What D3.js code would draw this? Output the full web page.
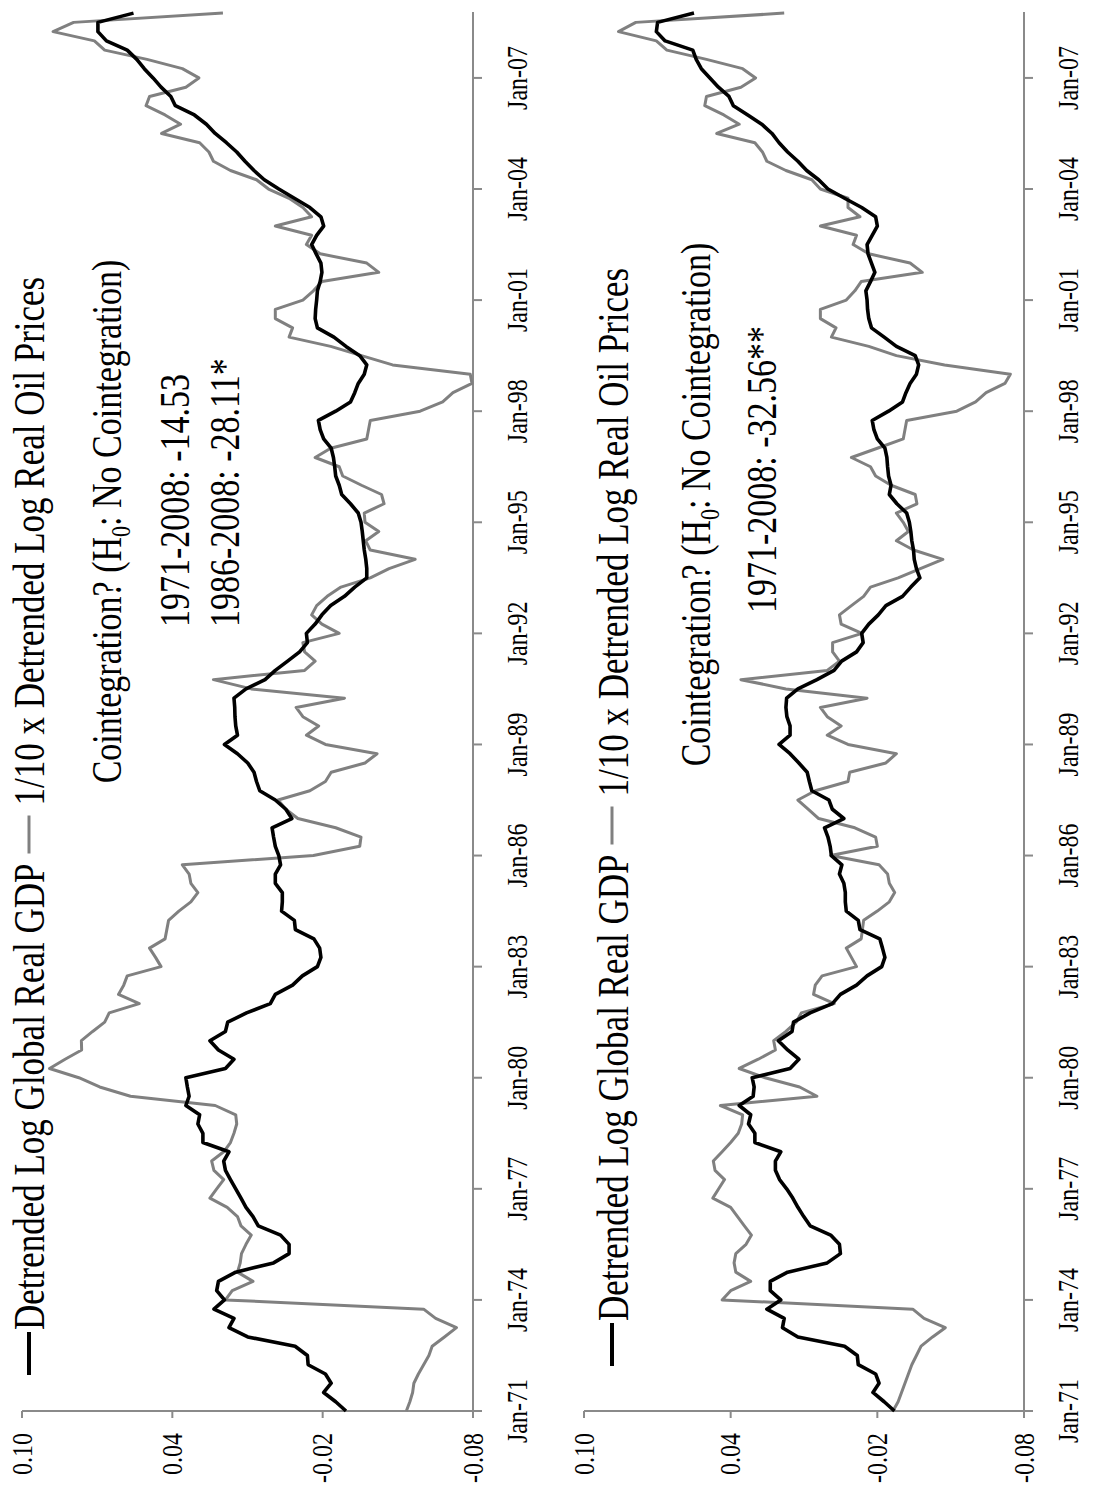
<!DOCTYPE html>
<html>
<head>
<meta charset="utf-8">
<script src="https://cdn.jsdelivr.net/npm/d3@7"></script>
<style>
  body { margin: 0; background: #fff; }
  svg { display: block; }
  text { font-family: "Liberation Serif", "Times New Roman", serif; fill: #000; }
</style>
</head>
<body>
<svg id="chart" width="1106" height="1490"></svg>
<script>
// Quarterly observations, 1971Q1 .. 2008Q4
const firstYear = 1971;

const timeTicks = [1971, 1974, 1977, 1980, 1983, 1986, 1989, 1992, 1995, 1998, 2001, 2004, 2007];
const timeTickLabels = ["Jan-71", "Jan-74", "Jan-77", "Jan-80", "Jan-83", "Jan-86", "Jan-89",
                        "Jan-92", "Jan-95", "Jan-98", "Jan-01", "Jan-04", "Jan-07"];
const valueTicks = [0.10, 0.04, -0.02, -0.08];
const valueTickLabels = ["0.10", "0.04", "-0.02", "-0.08"];

const seriesNames = ["Detrended Log Global Real GDP", "1/10 x Detrended Log Real Oil Prices"];

// Panel A: linear trend, 1971-2008
const gdpA = [
  -0.0293,-0.0252,-0.0204,-0.0234,-0.0211,-0.0142,-0.0139,-0.0090,0.0099,0.0174,0.0154,0.0234,
  0.0192,0.0223,0.0216,0.0147,-0.0004,-0.0066,-0.0066,-0.0032,0.0057,0.0078,0.0106,0.0126,
  0.0147,0.0168,0.0188,0.0195,0.0174,0.0278,0.0278,0.0298,0.0291,0.0346,0.0333,0.0340,
  0.0346,0.0188,0.0154,0.0216,0.0250,0.0188,0.0179,0.0104,0.0009,-0.0011,-0.0080,-0.0119,
  -0.0179,-0.0193,-0.0188,-0.0165,-0.0091,-0.0087,-0.0036,-0.0039,-0.0039,-0.0011,-0.0011,-0.0032,
  -0.0025,-0.0011,-0.0004,0.0002,-0.0077,-0.0053,-0.0011,0.0051,0.0064,0.0074,0.0099,0.0140,
  0.0192,0.0140,0.0147,0.0150,0.0151,0.0154,0.0106,0.0030,-0.0011,-0.0060,-0.0108,-0.0139,
  -0.0135,-0.0170,-0.0197,-0.0232,-0.0287,-0.0328,-0.0376,-0.0376,-0.0372,-0.0366,-0.0362,-0.0358,
  -0.0353,-0.0342,-0.0311,-0.0276,-0.0266,-0.0252,-0.0248,-0.0243,-0.0234,-0.0204,-0.0190,-0.0183,
  -0.0252,-0.0311,-0.0328,-0.0342,-0.0366,-0.0376,-0.0348,-0.0293,-0.0245,-0.0179,-0.0170,-0.0172,
  -0.0176,-0.0179,-0.0190,-0.0197,-0.0193,-0.0174,-0.0156,-0.0176,-0.0204,-0.0193,-0.0149,-0.0087,
  -0.0025,0.0033,0.0074,0.0110,0.0143,0.0184,0.0229,0.0264,0.0312,0.0388,0.0406,0.0445,
  0.0477,0.0512,0.0542,0.0580,0.0663,0.0697,0.0697,0.0555
];
const oilA = [
  -0.0534,-0.0548,-0.0559,-0.0564,-0.0582,-0.0603,-0.0624,-0.0637,-0.0686,-0.0734,-0.0651,-0.0603,
  0.0188,0.0161,0.0078,0.0140,0.0129,0.0124,0.0106,0.0085,0.0126,0.0140,0.0181,0.0250,
  0.0223,0.0195,0.0234,0.0243,0.0195,0.0168,0.0154,0.0143,0.0147,0.0229,0.0567,0.0690,
  0.0773,0.0890,0.0828,0.0762,0.0763,0.0718,0.0670,0.0652,0.0532,0.0615,0.0594,0.0580,
  0.0445,0.0467,0.0491,0.0429,0.0422,0.0415,0.0374,0.0326,0.0298,0.0326,0.0333,0.0360,
  -0.0163,-0.0348,-0.0353,-0.0252,-0.0101,-0.0053,-0.0022,-0.0149,-0.0211,-0.0234,-0.0369,-0.0417,
  -0.0211,-0.0135,-0.0184,-0.0121,-0.0094,-0.0287,0.0085,0.0236,-0.0128,-0.0170,-0.0128,-0.0121,
  -0.0266,-0.0197,-0.0156,-0.0176,-0.0218,-0.0273,-0.0390,-0.0465,-0.0569,-0.0390,-0.0372,-0.0424,
  -0.0369,-0.0366,-0.0445,-0.0435,-0.0355,-0.0280,-0.0266,-0.0170,-0.0232,-0.0376,-0.0383,-0.0390,
  -0.0589,-0.0679,-0.0720,-0.0796,-0.0789,-0.0479,-0.0355,-0.0232,-0.0066,-0.0080,-0.0011,-0.0011,
  -0.0121,-0.0163,-0.0197,-0.0424,-0.0376,-0.0190,-0.0135,-0.0156,-0.0011,-0.0156,-0.0121,-0.0066,
  0.0016,0.0064,0.0168,0.0236,0.0254,0.0291,0.0443,0.0367,0.0429,0.0505,0.0491,0.0346,
  0.0294,0.0360,0.0501,0.0670,0.0711,0.0876,0.0794,0.0198
];

// Panel B: trend with break
const gdpB = [
  -0.0270,-0.0228,-0.0182,-0.0207,-0.0193,-0.0122,-0.0118,-0.0066,0.0125,0.0188,0.0181,0.0252,
  0.0195,0.0238,0.0238,0.0167,0.0005,-0.0049,-0.0045,-0.0009,0.0075,0.0101,0.0125,0.0146,
  0.0171,0.0200,0.0217,0.0217,0.0195,0.0301,0.0301,0.0327,0.0318,0.0365,0.0308,0.0304,
  0.0312,0.0157,0.0121,0.0167,0.0205,0.0149,0.0143,0.0075,-0.0016,-0.0049,-0.0115,-0.0158,
  -0.0218,-0.0231,-0.0221,-0.0210,-0.0129,-0.0122,-0.0073,-0.0069,-0.0069,-0.0063,-0.0045,-0.0055,
  -0.0012,-0.0007,0.0002,0.0016,-0.0063,-0.0016,-0.0002,0.0068,0.0078,0.0087,0.0121,0.0157,
  0.0202,0.0157,0.0157,0.0170,0.0174,0.0171,0.0125,0.0047,-0.0023,-0.0054,-0.0115,-0.0142,
  -0.0136,-0.0165,-0.0204,-0.0235,-0.0303,-0.0337,-0.0374,-0.0360,-0.0351,-0.0348,-0.0341,-0.0337,
  -0.0331,-0.0320,-0.0280,-0.0249,-0.0256,-0.0246,-0.0242,-0.0239,-0.0231,-0.0200,-0.0186,-0.0179,
  -0.0246,-0.0303,-0.0317,-0.0334,-0.0360,-0.0369,-0.0355,-0.0278,-0.0228,-0.0176,-0.0165,-0.0160,
  -0.0158,-0.0153,-0.0172,-0.0190,-0.0176,-0.0162,-0.0158,-0.0179,-0.0200,-0.0193,-0.0136,-0.0066,
  0.0002,0.0040,0.0089,0.0125,0.0167,0.0202,0.0231,0.0273,0.0330,0.0389,0.0407,0.0450,
  0.0485,0.0520,0.0541,0.0555,0.0668,0.0704,0.0699,0.0550
];
const oilB = [
  -0.0264,-0.0285,-0.0299,-0.0313,-0.0327,-0.0341,-0.0360,-0.0379,-0.0426,-0.0478,-0.0391,-0.0345,
  0.0435,0.0400,0.0318,0.0379,0.0386,0.0379,0.0337,0.0315,0.0344,0.0372,0.0400,0.0473,
  0.0449,0.0425,0.0464,0.0471,0.0435,0.0400,0.0369,0.0355,0.0351,0.0442,0.0047,0.0118,
  0.0259,0.0365,0.0287,0.0217,0.0224,0.0174,0.0132,0.0111,-0.0024,0.0061,0.0054,0.0026,
  -0.0115,-0.0094,-0.0073,-0.0134,-0.0139,-0.0144,-0.0200,-0.0249,-0.0271,-0.0249,-0.0242,-0.0207,
  -0.0009,-0.0200,-0.0193,-0.0108,0.0040,0.0082,0.0125,0.0054,-0.0080,-0.0087,-0.0235,-0.0278,
  -0.0080,0.0005,-0.0052,0.0005,0.0033,-0.0158,0.0174,0.0358,0.0005,-0.0045,-0.0017,-0.0017,
  -0.0137,-0.0052,-0.0045,-0.0094,-0.0144,-0.0172,-0.0285,-0.0376,-0.0468,-0.0348,-0.0278,-0.0327,
  -0.0306,-0.0278,-0.0362,-0.0355,-0.0256,-0.0193,-0.0172,-0.0094,-0.0200,-0.0306,-0.0313,-0.0320,
  -0.0525,-0.0602,-0.0645,-0.0722,-0.0744,-0.0475,-0.0278,-0.0165,-0.0012,-0.0031,0.0033,0.0033,
  -0.0073,-0.0108,-0.0134,-0.0384,-0.0334,-0.0165,-0.0101,-0.0115,0.0033,-0.0129,-0.0080,-0.0080,
  0.0033,0.0068,0.0174,0.0252,0.0270,0.0301,0.0457,0.0365,0.0428,0.0506,0.0499,0.0358,
  0.0298,0.0351,0.0499,0.0661,0.0704,0.0859,0.0788,0.0181
];

const annotA = ["1971-2008: -14.53", "1986-2008: -28.11*"];
const annotB = ["1971-2008: -32.56**"];

// ---- layout -------------------------------------------------------------
// Each panel is drawn as an ordinary time-series chart and then turned a
// quarter-turn anticlockwise: time runs up the page, values run across it.
const BASE_Y = 1411;          // page y of the first quarter
const PX_PER_YEAR = 37.03;
const AXIS_LEN = 1399;        // length of the time axis
const K_BIG = 1.27, K_TICK = 1.2;   // vertical stretch of the lettering
const AXIS_COLOR = "#8a8a8a";

const panels = [
  { gdp: gdpA, oil: oilA, x0: 22, x1: 473,
    legend: { dash: 29, base: 44, start: 36 },
    coint: { base: 121, center: 889.5 },
    notes: annotA, notesStart: 784, notesBase: [189, 239] },
  { gdp: gdpB, oil: oilB, x0: 584, x1: 1024,
    legend: { dash: 612, base: 628, start: 45 },
    coint: { base: 710, center: 906.5 },
    notes: annotB, notesStart: 798, notesBase: [776] }
];

const svg = d3.select("#chart");
const tScale = d3.scaleLinear().domain([firstYear, firstYear + 1]).range([0, PX_PER_YEAR]);

function stretchedText(g, u, v, str, size, anchor, k) {
  return g.append("text")
    .attr("transform", `translate(${u},${v}) scale(1,${k})`)
    .attr("text-anchor", anchor)
    .attr("font-size", size)
    .text(str);
}

panels.forEach(p => {
  const g = svg.append("g").attr("transform", `translate(0,${BASE_Y}) rotate(-90)`);
  const vScale = d3.scaleLinear().domain([0.10, -0.08]).range([p.x0, p.x1]);

  // value axis (along the first quarter)
  g.append("line").attr("x1", 0).attr("x2", 0).attr("y1", p.x0).attr("y2", p.x1)
    .attr("stroke", AXIS_COLOR).attr("stroke-width", 2);
  valueTicks.forEach((v, i) => {
    g.append("line").attr("x1", 0).attr("x2", -7).attr("y1", vScale(v)).attr("y2", vScale(v))
      .attr("stroke", AXIS_COLOR).attr("stroke-width", 2);
    stretchedText(g, -22, vScale(v), valueTickLabels[i], 24, "end", K_TICK)
      .attr("dy", "0.34em");
  });

  // time axis (at the bottom of the value range)
  g.append("line").attr("x1", 0).attr("x2", AXIS_LEN).attr("y1", p.x1).attr("y2", p.x1)
    .attr("stroke", AXIS_COLOR).attr("stroke-width", 2);
  timeTicks.forEach((t, i) => {
    const u = tScale(t);
    g.append("line").attr("x1", u).attr("x2", u).attr("y1", p.x1).attr("y2", p.x1 + 9)
      .attr("stroke", AXIS_COLOR).attr("stroke-width", 2);
    stretchedText(g, u, p.x1 + 54, timeTickLabels[i], 24, "middle", K_TICK);
  });

  // series
  const line = d3.line()
    .x((d, i) => tScale(firstYear + i / 4))
    .y(d => vScale(d));
  g.append("path").datum(p.oil).attr("d", line)
    .attr("fill", "none").attr("stroke", "#808080").attr("stroke-width", 3)
    .attr("stroke-linejoin", "round");
  g.append("path").datum(p.gdp).attr("d", line)
    .attr("fill", "none").attr("stroke", "#000").attr("stroke-width", 3.6)
    .attr("stroke-linejoin", "round");

  // legend
  const L = p.legend, DASH = 43;
  g.append("line").attr("x1", L.start).attr("x2", L.start + DASH)
    .attr("y1", L.dash).attr("y2", L.dash).attr("stroke", "#000").attr("stroke-width", 4);
  const t1 = stretchedText(g, L.start + DASH + 2, L.base, seriesNames[0], 35, "start", K_BIG);
  const u2 = L.start + DASH + 2 + t1.node().getComputedTextLength() + 10;
  g.append("line").attr("x1", u2).attr("x2", u2 + 38)
    .attr("y1", L.dash).attr("y2", L.dash).attr("stroke", "#808080").attr("stroke-width", 3);
  stretchedText(g, u2 + 48, L.base, seriesNames[1], 35, "start", K_BIG);

  // cointegration test statistics
  const c = stretchedText(g, p.coint.center, p.coint.base, null, 34, "middle", K_BIG);
  c.append("tspan").text("Cointegration? (H");
  c.append("tspan").attr("font-size", 22).attr("dy", 7).text("0");
  c.append("tspan").attr("dy", -7).text(": No Cointegration)");
  p.notes.forEach((s, i) => {
    stretchedText(g, p.notesStart, p.notesBase[i], s, 34, "start", K_BIG);
  });
});
</script>
</body>
</html>
